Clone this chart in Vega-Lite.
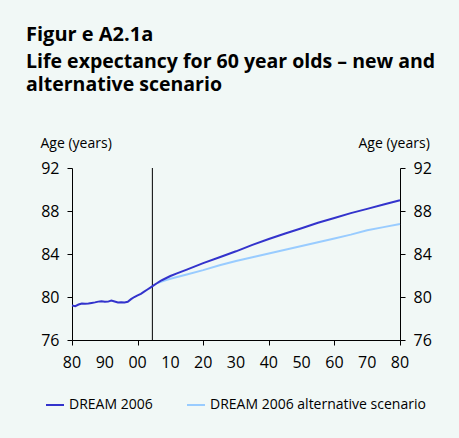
{
  "$schema": "https://vega.github.io/schema/vega-lite/v6.json",
  "width": 328,
  "height": 172,
  "autosize": {"type": "none"},
  "padding": {"left": 72, "top": 168, "right": 59, "bottom": 98},
  "background": "#f1f8f6",
  "title": {
    "text": "Figur e A2.1a",
    "subtitle": ["Life expectancy for 60 year olds – new and", "alternative scenario"],
    "anchor": "start",
    "frame": "group",
    "dx": -46,
    "offset": 42,
    "font": "Open Sans",
    "fontSize": 20,
    "fontWeight": "bold",
    "color": "#000000",
    "subtitleFont": "Open Sans",
    "subtitleFontSize": 19.5,
    "subtitleFontWeight": "bold",
    "subtitleColor": "#000000",
    "subtitlePadding": 8,
    "subtitleLineHeight": 23
  },
  "datasets": {
    "life": [
      {"year": 1980, "value": 79.2, "series": "DREAM 2006"},
      {"year": 1981, "value": 79.15, "series": "DREAM 2006"},
      {"year": 1982, "value": 79.3, "series": "DREAM 2006"},
      {"year": 1983, "value": 79.4, "series": "DREAM 2006"},
      {"year": 1984, "value": 79.38, "series": "DREAM 2006"},
      {"year": 1985, "value": 79.4, "series": "DREAM 2006"},
      {"year": 1986, "value": 79.45, "series": "DREAM 2006"},
      {"year": 1987, "value": 79.5, "series": "DREAM 2006"},
      {"year": 1988, "value": 79.57, "series": "DREAM 2006"},
      {"year": 1989, "value": 79.6, "series": "DREAM 2006"},
      {"year": 1990, "value": 79.55, "series": "DREAM 2006"},
      {"year": 1991, "value": 79.57, "series": "DREAM 2006"},
      {"year": 1992, "value": 79.66, "series": "DREAM 2006"},
      {"year": 1993, "value": 79.58, "series": "DREAM 2006"},
      {"year": 1994, "value": 79.5, "series": "DREAM 2006"},
      {"year": 1995, "value": 79.52, "series": "DREAM 2006"},
      {"year": 1996, "value": 79.5, "series": "DREAM 2006"},
      {"year": 1997, "value": 79.55, "series": "DREAM 2006"},
      {"year": 1998, "value": 79.8, "series": "DREAM 2006"},
      {"year": 1999, "value": 80.0, "series": "DREAM 2006"},
      {"year": 2000, "value": 80.15, "series": "DREAM 2006"},
      {"year": 2001, "value": 80.3, "series": "DREAM 2006"},
      {"year": 2002, "value": 80.5, "series": "DREAM 2006"},
      {"year": 2003, "value": 80.7, "series": "DREAM 2006"},
      {"year": 2004, "value": 80.9, "series": "DREAM 2006"},
      {"year": 2005, "value": 81.1, "series": "DREAM 2006"},
      {"year": 2006, "value": 81.3, "series": "DREAM 2006"},
      {"year": 2007, "value": 81.5, "series": "DREAM 2006"},
      {"year": 2008, "value": 81.65, "series": "DREAM 2006"},
      {"year": 2010, "value": 81.95, "series": "DREAM 2006"},
      {"year": 2012, "value": 82.2, "series": "DREAM 2006"},
      {"year": 2015, "value": 82.55, "series": "DREAM 2006"},
      {"year": 2020, "value": 83.15, "series": "DREAM 2006"},
      {"year": 2025, "value": 83.7, "series": "DREAM 2006"},
      {"year": 2030, "value": 84.25, "series": "DREAM 2006"},
      {"year": 2035, "value": 84.85, "series": "DREAM 2006"},
      {"year": 2040, "value": 85.4, "series": "DREAM 2006"},
      {"year": 2045, "value": 85.9, "series": "DREAM 2006"},
      {"year": 2050, "value": 86.4, "series": "DREAM 2006"},
      {"year": 2055, "value": 86.9, "series": "DREAM 2006"},
      {"year": 2060, "value": 87.35, "series": "DREAM 2006"},
      {"year": 2065, "value": 87.8, "series": "DREAM 2006"},
      {"year": 2070, "value": 88.2, "series": "DREAM 2006"},
      {"year": 2075, "value": 88.6, "series": "DREAM 2006"},
      {"year": 2080, "value": 89.0, "series": "DREAM 2006"},
      {"year": 2006, "value": 81.3, "series": "DREAM 2006 alternative scenario"},
      {"year": 2008, "value": 81.5, "series": "DREAM 2006 alternative scenario"},
      {"year": 2010, "value": 81.7, "series": "DREAM 2006 alternative scenario"},
      {"year": 2015, "value": 82.1, "series": "DREAM 2006 alternative scenario"},
      {"year": 2020, "value": 82.5, "series": "DREAM 2006 alternative scenario"},
      {"year": 2025, "value": 82.95, "series": "DREAM 2006 alternative scenario"},
      {"year": 2030, "value": 83.35, "series": "DREAM 2006 alternative scenario"},
      {"year": 2035, "value": 83.7, "series": "DREAM 2006 alternative scenario"},
      {"year": 2040, "value": 84.05, "series": "DREAM 2006 alternative scenario"},
      {"year": 2045, "value": 84.4, "series": "DREAM 2006 alternative scenario"},
      {"year": 2050, "value": 84.75, "series": "DREAM 2006 alternative scenario"},
      {"year": 2055, "value": 85.1, "series": "DREAM 2006 alternative scenario"},
      {"year": 2060, "value": 85.45, "series": "DREAM 2006 alternative scenario"},
      {"year": 2065, "value": 85.8, "series": "DREAM 2006 alternative scenario"},
      {"year": 2070, "value": 86.2, "series": "DREAM 2006 alternative scenario"},
      {"year": 2075, "value": 86.5, "series": "DREAM 2006 alternative scenario"},
      {"year": 2080, "value": 86.8, "series": "DREAM 2006 alternative scenario"}
    ],
    "marker": [{"year": 2004.5}],
    "yearlabels": [
      {"year": 1980, "label": "80"},
      {"year": 1990, "label": "90"},
      {"year": 2000, "label": "00"},
      {"year": 2010, "label": "10"},
      {"year": 2020, "label": "20"},
      {"year": 2030, "label": "30"},
      {"year": 2040, "label": "40"},
      {"year": 2050, "label": "50"},
      {"year": 2060, "label": "60"},
      {"year": 2070, "label": "70"},
      {"year": 2080, "label": "80"}
    ]
  },
  "layer": [
    {
      "data": {"name": "marker"},
      "mark": {"type": "rule", "color": "#000000", "strokeWidth": 1},
      "encoding": {
        "x": {
          "field": "year", "type": "quantitative",
          "scale": {"domain": [1980, 2080], "nice": false, "zero": false},
          "axis": {"values": [1980, 1990, 2000, 2010, 2020, 2030, 2040, 2050, 2060, 2070, 2080], "labels": false, "title": null}
        }
      }
    },
    {
      "data": {"name": "life"},
      "transform": [{"filter": "datum.series === 'DREAM 2006 alternative scenario'"}],
      "mark": {"type": "line", "strokeWidth": 2},
      "encoding": {
        "x": {"field": "year", "type": "quantitative"},
        "y": {
          "field": "value", "type": "quantitative",
          "scale": {"domain": [76, 92], "nice": false, "zero": false},
          "axis": {"orient": "right", "values": [76, 80, 84, 88, 92], "title": "Age (years)", "titleX": -42, "titleY": -21, "titleAlign": "left"}
        },
        "color": {
          "field": "series", "type": "nominal",
          "scale": {"domain": ["DREAM 2006", "DREAM 2006 alternative scenario"], "range": ["#3333cc", "#99ccff"]}
        }
      }
    },
    {
      "data": {"name": "life"},
      "transform": [{"filter": "datum.series === 'DREAM 2006'"}],
      "mark": {"type": "line", "strokeWidth": 2},
      "encoding": {
        "x": {"field": "year", "type": "quantitative"},
        "y": {
          "field": "value", "type": "quantitative",
          "axis": {"orient": "left", "values": [76, 80, 84, 88, 92], "title": "Age (years)", "titleX": -32, "titleY": -21, "titleAlign": "left"}
        },
        "color": {"field": "series", "type": "nominal"}
      }
    },
    {
      "data": {"name": "yearlabels"},
      "mark": {"type": "text", "baseline": "top", "align": "center", "dy": 15, "fontSize": 16, "font": "Open Sans", "color": "#000000"},
      "encoding": {
        "x": {"field": "year", "type": "quantitative"},
        "y": {"datum": 76, "type": "quantitative", "axis": null},
        "text": {"field": "label", "type": "nominal"}
      }
    }
  ],
  "resolve": {"axis": {"y": "independent"}},
  "config": {
    "font": "Open Sans",
    "view": {"stroke": null},
    "axis": {
      "grid": false, "domainColor": "#000000", "tickColor": "#000000", "tickSize": 5,
      "labelFontSize": 16, "labelColor": "#000000", "labelFont": "Open Sans", "labelPadding": 8,
      "labelOverlap": false, "labelFlush": false,
      "titleFont": "Open Sans", "titleFontSize": 14, "titleFontWeight": "normal", "titleColor": "#000000",
      "titleAngle": 0, "titleBaseline": "alphabetic"
    },
    "legend": {
      "orient": "none", "legendX": -27, "legendY": 227, "direction": "horizontal",
      "title": null, "symbolType": "stroke", "symbolSize": 324, "symbolStrokeWidth": 2,
      "labelFontSize": 14, "labelFont": "Open Sans", "labelColor": "#000000", "columnPadding": 30, "labelOffset": 4, "labelLimit": 400
    }
  }
}
